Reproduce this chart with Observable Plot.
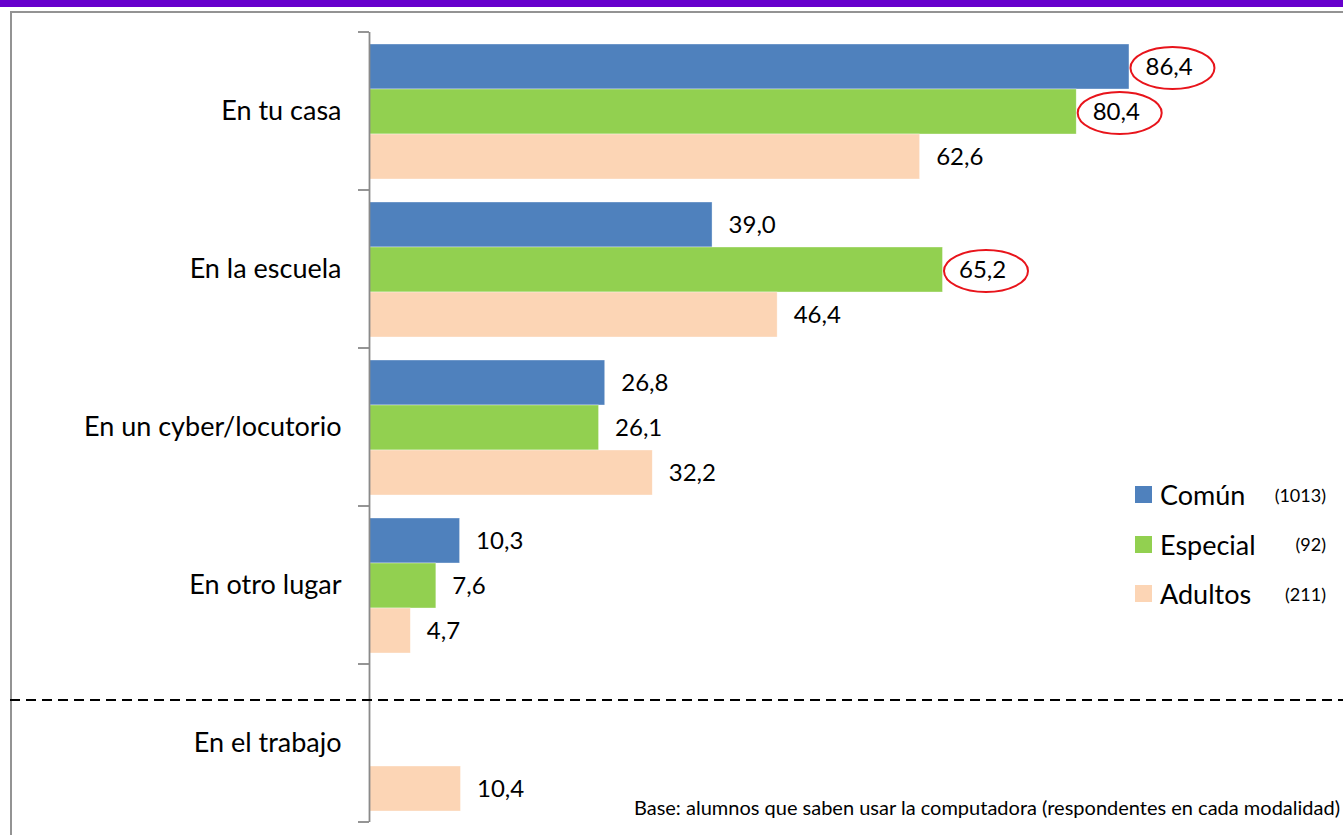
<!DOCTYPE html>
<html>
<head>
<meta charset="utf-8">
<script src="https://cdn.jsdelivr.net/npm/d3@7"></script>
<script src="https://cdn.jsdelivr.net/npm/@observablehq/plot@0.6"></script>
<style>
  html, body { margin: 0; padding: 0; background: #fff; }
  #wrap { position: relative; width: 1343px; height: 835px; overflow: hidden; font-family: Lato, "Open Sans", sans-serif; }
  #topbar { position: absolute; left: 0; top: 0; width: 1343px; height: 7px; background: #6600CC; }
  #frame { position: absolute; left: 10px; top: 11px; width: 1400px; height: 900px; border-top: 2px solid #939393; border-left: 2px solid #939393; box-sizing: border-box; }
  #chart { position: absolute; left: 0; top: 0; }
  #legend { position: absolute; left: 1135px; top: 470px; width: 195px; }
  .lrow { position: relative; height: 49.5px; display: flex; align-items: center; }
  .sw { width: 17px; height: 17px; margin-right: 8px; }
  .lname { font-size: 27px; color: #000; }
  .ln { position: absolute; right: 4px; font-size: 18px; color: #000; }
  #note { position: absolute; right: 3px; top: 795px; font-size: 20px; color: #000; white-space: nowrap; }
</style>
</head>
<body>
<div id="wrap">
  <div id="frame"></div>
  <div id="chart"></div>
  <div id="topbar"></div>
  <div id="legend"></div>
  <div id="note"></div>
</div>
<script>
// ---- data ----
const categories = ["En tu casa", "En la escuela", "En un cyber/locutorio", "En otro lugar", "En el trabajo"];
const series = ["Común", "Especial", "Adultos"];
const comun    = [86.4, 39.0, 26.8, 10.3, null];
const especial = [80.4, 65.2, 26.1, 7.6, null];
const adultos  = [62.6, 46.4, 32.2, 4.7, 10.4];
const sampleSizes = [1013, 92, 211];
const colors = ["#4F81BD", "#92D050", "#FCD5B5"];
const highlighted = [["En tu casa", "Común"], ["En tu casa", "Especial"], ["En la escuela", "Especial"]];
const note = "Base: alumnos que saben usar la computadora (respondentes en cada modalidad)";

// ---- build table ----
const valuesBySeries = [comun, especial, adultos];
const rows = [];
categories.forEach((c, i) => {
  series.forEach((s, j) => {
    const v = valuesBySeries[j][i];
    if (v != null) rows.push({category: c, series: s, value: v});
  });
});
const hl = rows.filter(r => highlighted.some(([c, s]) => c === r.category && s === r.series));
const fmt = v => d3.format(".1f")(v).replace(".", ",");

// ellipse symbol
const ellipse = {
  draw(ctx) {
    const rx = 42, ry = 21, k = 0.5523;
    ctx.moveTo(rx, 0);
    ctx.bezierCurveTo(rx, ry * k, rx * k, ry, 0, ry);
    ctx.bezierCurveTo(-rx * k, ry, -rx, ry * k, -rx, 0);
    ctx.bezierCurveTo(-rx, -ry * k, -rx * k, -ry, 0, -ry);
    ctx.bezierCurveTo(rx * k, -ry, rx, -ry * k, rx, 0);
    ctx.closePath();
  }
};

const W = 1343, H = 835;
const plot = Plot.plot({
  width: W, height: H,
  marginLeft: 369, marginRight: 94.4, marginTop: 32, marginBottom: 13,
  x: {domain: [0, 100], axis: null},
  y: {domain: series, paddingInner: 0, paddingOuter: 0.255, axis: null},
  fy: {domain: categories, padding: 0, axis: null, label: null},
  color: {domain: series, range: colors},
  style: {fontFamily: "Lato, 'Open Sans', sans-serif", background: "transparent", overflow: "visible"},
  marks: [
    Plot.barX(rows, {x: "value", y: "series", fy: "category", fill: "series", stroke: "#ffffff", strokeOpacity: 0.6, strokeWidth: 0.6}),
    Plot.text(rows, {x: "value", y: "series", fy: "category", text: d => fmt(d.value), textAnchor: "start", dx: 16, fontSize: 24, fill: "#000"}),
    Plot.dot(hl, {x: "value", y: "series", fy: "category", symbol: ellipse, stroke: "#E8141B", strokeWidth: 2, fill: "none", dx: 43, dy: 1}),
    Plot.axisFy({anchor: "left", tickSize: 0, tickPadding: 28, fontSize: 27, fill: "#000", label: null}),
    Plot.ruleX([0], {stroke: "#8a8a8a", strokeWidth: 1.8})
  ]
});
document.getElementById("chart").appendChild(plot);

// boundary ticks and separator, positioned from the plot's own scales
const fy = plot.scale("fy");
const xs = plot.scale("x");
const bw = fy.bandwidth;
const x0 = xs.apply(0);
const svg = d3.select(plot);
const g = svg.append("g");
const bounds = categories.map(c => fy.apply(c)).concat([fy.apply(categories[categories.length - 1]) + bw]);
bounds.forEach(yv => {
  g.append("line").attr("x1", x0 - 11).attr("x2", x0).attr("y1", yv).attr("y2", yv)
    .attr("stroke", "#8a8a8a").attr("stroke-width", 1.8);
});
const ySep = fy.apply("En el trabajo") + bw * 0.228;
g.append("line").attr("x1", 10).attr("x2", W).attr("y1", ySep).attr("y2", ySep)
  .attr("stroke", "#000").attr("stroke-width", 2).attr("stroke-dasharray", "10,6");

// legend
const legend = d3.select("#legend");
series.forEach((s, i) => {
  const row = legend.append("div").attr("class", "lrow");
  row.append("div").attr("class", "sw").style("background", colors[i]);
  row.append("span").attr("class", "lname").text(s);
  row.append("span").attr("class", "ln").text(`(${sampleSizes[i]})`);
});
d3.select("#note").text(note);
</script>
</body>
</html>
